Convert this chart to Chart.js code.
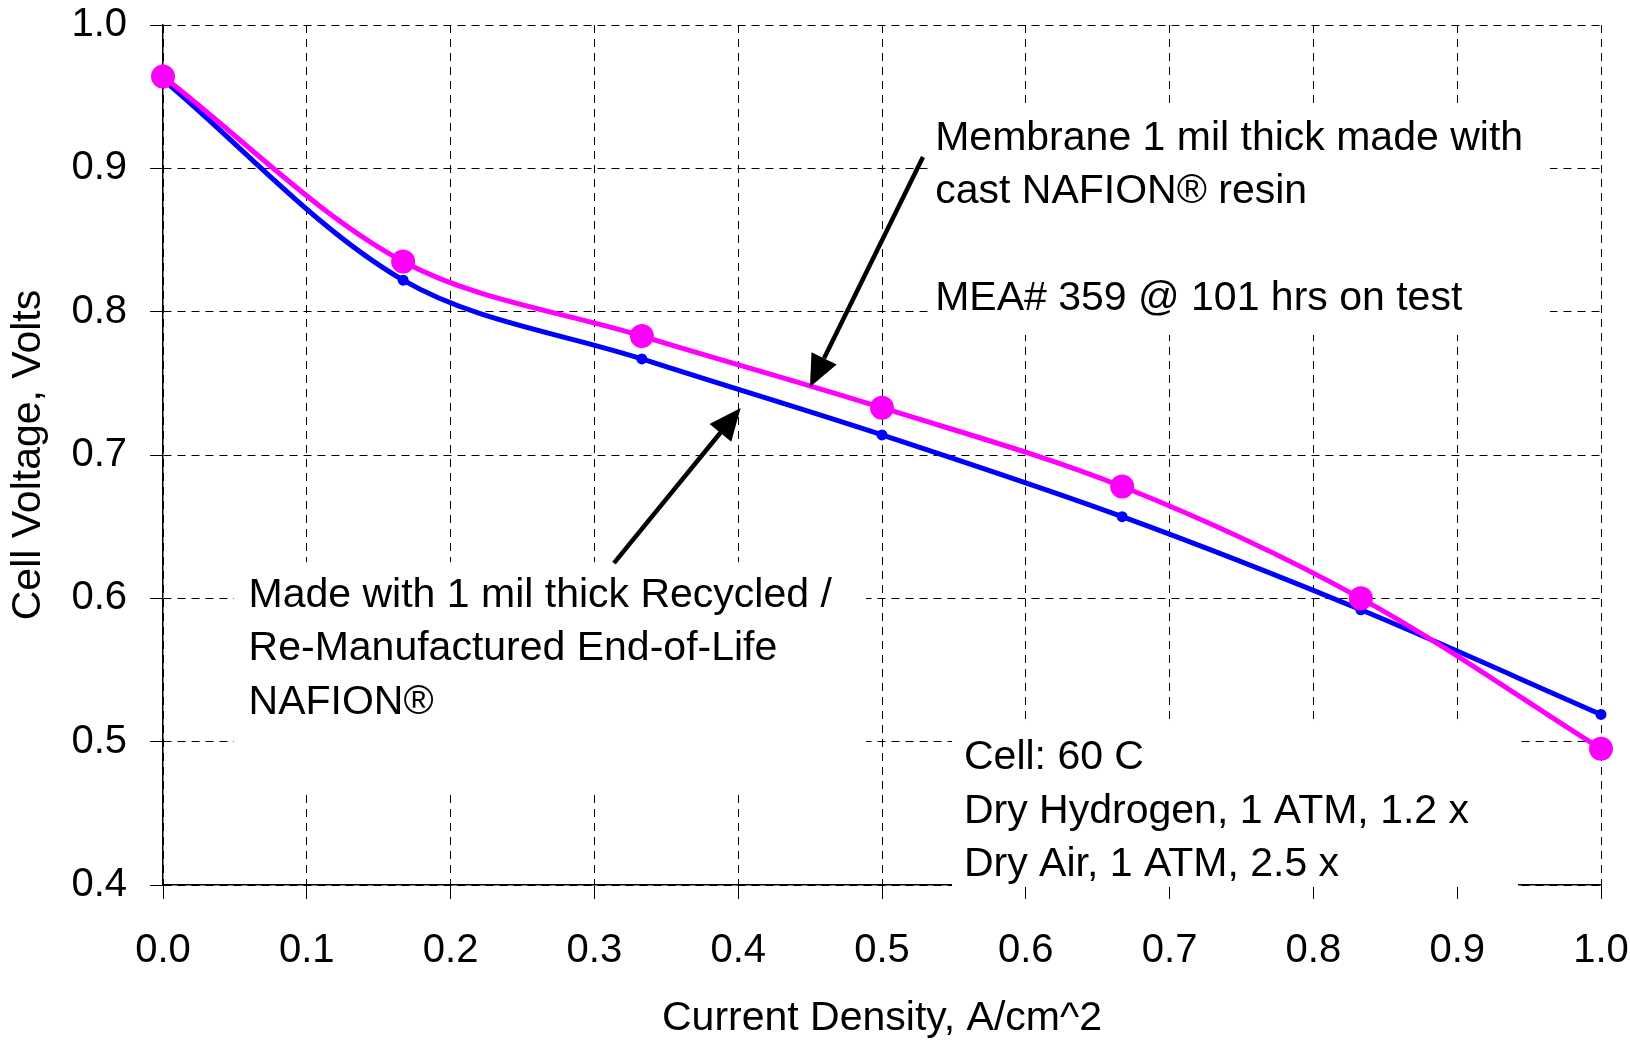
<!DOCTYPE html>
<html>
<head>
<meta charset="utf-8">
<script src="https://cdn.jsdelivr.net/npm/chart.js@4/dist/chart.umd.min.js"></script>
<style>
html, body { margin: 0; padding: 0; background: #ffffff; }
#wrap { width: 1630px; height: 1043px; }
</style>
</head>
<body>
<div id="wrap"><canvas id="c" width="1630" height="1043"></canvas></div>
<script>
// ---- data ----
const currentDensity  = [0.0, 0.167, 0.333, 0.5, 0.667, 0.833, 1.0];
const voltageCast     = [0.964, 0.835, 0.783, 0.733, 0.678, 0.600, 0.495];
const voltageRecycled = [0.962, 0.822, 0.767, 0.714, 0.657, 0.592, 0.519];
const xTickValues = [0.0, 0.1, 0.2, 0.3, 0.4, 0.5, 0.6, 0.7, 0.8, 0.9, 1.0];
const yTickValues = [0.4, 0.5, 0.6, 0.7, 0.8, 0.9, 1.0];
const xTitle = 'Current Density, A/cm^2';
const yTitle = 'Cell Voltage, Volts';

// annotation texts (anchored in data coordinates)
const noteCast     = ['Membrane 1 mil thick made with', 'cast NAFION\u00AE resin', '', 'MEA# 359 @ 101 hrs on test'];
const noteRecycled = ['Made with 1 mil thick Recycled /', 'Re-Manufactured End-of-Life', 'NAFION\u00AE'];
const noteCond     = ['Cell: 60 C', 'Dry Hydrogen, 1 ATM, 1.2 x', 'Dry Air, 1 ATM, 2.5 x'];

const notes = [
  { lines: noteCast,     x: 0.537, y: 0.9128, box: [0.532, 0.9442, 0.9645, 0.7837] },
  { lines: noteRecycled, x: 0.0595, y: 0.594, box: [0.0494, 0.6253, 0.4889, 0.4635] },
  { lines: noteCond,     x: 0.557, y: 0.4807, box: [0.5487, 0.5116, 0.9423, 0.3986] }
];
const arrows = [
  { from: [0.5285, 0.9079], to: [0.4499, 0.7474] },
  { from: [0.3136, 0.6246], to: [0.4017, 0.7328] }
];

const FONT = '"Liberation Sans", Arial, sans-serif';

const notesPlugin = {
  id: 'notes',
  beforeDatasetsDraw(chart) {
    const { ctx, scales: { x, y } } = chart;
    ctx.save();
    notes.forEach(n => {
      const x0 = x.getPixelForValue(n.box[0]);
      const y0 = y.getPixelForValue(n.box[1]);
      const x1 = x.getPixelForValue(n.box[2]);
      const y1 = y.getPixelForValue(n.box[3]);
      ctx.fillStyle = '#ffffff';
      ctx.fillRect(x0, y0, x1 - x0, y1 - y0);
    });
    ctx.fillStyle = '#000000';
    ctx.font = '41px ' + FONT;
    ctx.textAlign = 'left';
    ctx.textBaseline = 'alphabetic';
    notes.forEach(n => {
      const px = x.getPixelForValue(n.x);
      const py = y.getPixelForValue(n.y);
      n.lines.forEach((line, i) => ctx.fillText(line, px, py + i * 53.5));
    });
    ctx.restore();
  },
  afterDatasetsDraw(chart) {
    const { ctx, scales: { x, y } } = chart;
    ctx.save();
    ctx.strokeStyle = '#000000';
    ctx.fillStyle = '#000000';
    ctx.lineWidth = 4.5;
    arrows.forEach(a => {
      const x0 = x.getPixelForValue(a.from[0]);
      const y0 = y.getPixelForValue(a.from[1]);
      const x1 = x.getPixelForValue(a.to[0]);
      const y1 = y.getPixelForValue(a.to[1]);
      const ang = Math.atan2(y1 - y0, x1 - x0);
      const headLen = 32, headHalf = 14;
      const bx = x1 - headLen * Math.cos(ang);
      const by = y1 - headLen * Math.sin(ang);
      ctx.beginPath();
      ctx.moveTo(x0, y0);
      ctx.lineTo(bx, by);
      ctx.stroke();
      ctx.beginPath();
      ctx.moveTo(x1, y1);
      ctx.lineTo(bx + headHalf * Math.sin(ang), by - headHalf * Math.cos(ang));
      ctx.lineTo(bx - headHalf * Math.sin(ang), by + headHalf * Math.cos(ang));
      ctx.closePath();
      ctx.fill();
    });
    ctx.restore();
  }
};

const toPoints = (xs, ys) => xs.map((v, i) => ({ x: v, y: ys[i] }));

new Chart(document.getElementById('c'), {
  type: 'line',
  data: {
    datasets: [
      {
        label: 'Cast NAFION',
        data: toPoints(currentDensity, voltageCast),
        borderColor: '#FF00FF',
        backgroundColor: '#FF00FF',
        pointBackgroundColor: '#FF00FF',
        pointBorderColor: '#FF00FF',
        borderWidth: 5,
        pointRadius: 12,
        pointBorderWidth: 0,
        tension: 0.33,
        clip: false
      },
      {
        label: 'Recycled NAFION',
        data: toPoints(currentDensity, voltageRecycled),
        borderColor: '#0000FF',
        backgroundColor: '#0000FF',
        pointBackgroundColor: '#0000FF',
        pointBorderColor: '#0000FF',
        borderWidth: 5,
        pointRadius: 5.5,
        pointBorderWidth: 0,
        tension: 0.33,
        clip: false
      }
    ]
  },
  options: {
    responsive: false,
    animation: false,
    devicePixelRatio: 1,
    layout: { padding: { top: 25, right: 29, left: 0, bottom: 0 } },
    plugins: { legend: { display: false }, tooltip: { enabled: false } },
    scales: {
      x: {
        type: 'linear',
        min: 0, max: 1.0,
        afterFit(scale) {
          scale.height = 158;
          scale.paddingLeft = 0;
          scale.paddingRight = 0;
        },
        afterBuildTicks(scale) { scale.ticks = xTickValues.map(v => ({ value: v })); },
        ticks: {
          color: '#000000',
          font: { family: FONT, size: 40 },
          padding: 28,
          maxRotation: 0,
          autoSkip: false,
          callback: v => Number(v).toFixed(1)
        },
        grid: {
          color: '#000000', lineWidth: 1,
          tickLength: 14, tickColor: '#000000', tickWidth: 1, tickBorderDash: []
        },
        border: { display: true, color: '#000000', width: 1.5, dash: [8, 6] },
        title: {
          display: true, text: xTitle, color: '#000000',
          font: { family: FONT, size: 41 }, padding: { top: 0, bottom: 0 }
        }
      },
      y: {
        type: 'linear',
        min: 0.4, max: 1.0,
        afterFit(scale) {
          scale.width = 163;
          scale.paddingTop = 0;
          scale.paddingBottom = 0;
        },
        afterBuildTicks(scale) { scale.ticks = yTickValues.map(v => ({ value: v })); },
        ticks: {
          color: '#000000',
          font: { family: FONT, size: 40 },
          padding: 23,
          autoSkip: false,
          callback: v => Number(v).toFixed(1)
        },
        grid: {
          color: '#000000', lineWidth: 1,
          tickLength: 13, tickColor: '#000000', tickWidth: 1, tickBorderDash: []
        },
        border: { display: true, color: '#000000', width: 1.5, dash: [8, 6] },
        title: {
          display: true, text: yTitle, color: '#000000',
          font: { family: FONT, size: 41 }, padding: { top: 4, bottom: 0 }
        }
      }
    }
  },
  plugins: [notesPlugin]
});
</script>
</body>
</html>
